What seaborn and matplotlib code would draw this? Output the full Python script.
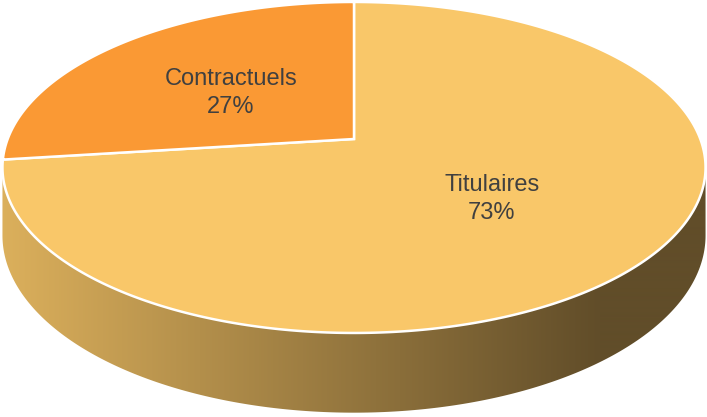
import numpy as np
import matplotlib
matplotlib.use("Agg")
import matplotlib.pyplot as plt
import seaborn as sns
from matplotlib.patches import Polygon

sns.set_style("white")
plt.rcParams["font.family"] = ["Liberation Sans", "DejaVu Sans"]

# ---- data ----
categories = ["Titulaires", "Contractuels"]
values = [73, 27]
colors = ["#F9C769", "#FA9934"]

# ---- 3D perspective parameters (pixels) ----
CX, CY = 354.0, 139.0      # projected pie centre (top face)
S, T = 346.3, 160.6        # horizontal / vertical scale
P = 0.172                  # perspective strength
H = 66.0                   # thickness


def proj(u, v, drop=0.0):
    w = 1.0 - P * v
    return CX + S * u / w, CY + (T * v + drop) / w


def rim(phis, r=1.0, drop=0.0):
    rad = np.radians(phis)
    return proj(r * np.cos(rad), -r * np.sin(rad), drop)


fig = plt.figure(figsize=(7.07, 4.17), dpi=100)
ax = fig.add_axes([0, 0, 1, 1])
ax.set_xlim(0, 707)
ax.set_ylim(417, 0)
ax.axis("off")

# ---- side (front visible part) with horizontal gradient ----
a_tan = np.degrees(np.arcsin(P))
phis = np.linspace(180 + a_tan, 360 - a_tan, 300)
tx, ty = rim(phis)
bx, by = rim(phis, drop=H)
side_xy = np.column_stack([np.concatenate([tx, bx[::-1]]),
                           np.concatenate([ty, by[::-1]])])
side = Polygon(side_xy, closed=True, facecolor="none", edgecolor="none", zorder=1)
ax.add_patch(side)

c0 = np.array([220, 176, 92]) / 255.0
c1 = np.array([97, 77, 41]) / 255.0
xs = np.linspace(0, 707, 707)
t = np.clip(xs / 600.0, 0, 1)[:, None]
grad = (c0 * (1 - t) + c1 * t)[None, :, :]
im = ax.imshow(grad, extent=[0, 707, 417, 0], aspect="auto", zorder=1,
               interpolation="bilinear")
im.set_clip_path(side)

# ---- top face wedges (clockwise from 12 o'clock) ----
total = float(sum(values))
start = 90.0
for cat, val, col in zip(categories, values, colors):
    sweep = 360.0 * val / total
    end = start - sweep
    arc = np.linspace(start, end, 400)
    ax_, ay_ = rim(arc)
    xy = np.column_stack([np.concatenate([[CX], ax_]),
                          np.concatenate([[CY], ay_])])
    ax.add_patch(Polygon(xy, closed=True, facecolor=col, edgecolor="white",
                         linewidth=1.8, joinstyle="miter", zorder=2))
    mid = (start + end) / 2.0
    lx, ly = rim([mid], r=0.5)
    ax.text(lx[0], ly[0] + 4, f"{cat}\n{val}%", ha="center", va="center",
            fontsize=17, color="#404040", linespacing=1.35, zorder=3)
    start = end

fig.savefig("out.png", dpi=100)
